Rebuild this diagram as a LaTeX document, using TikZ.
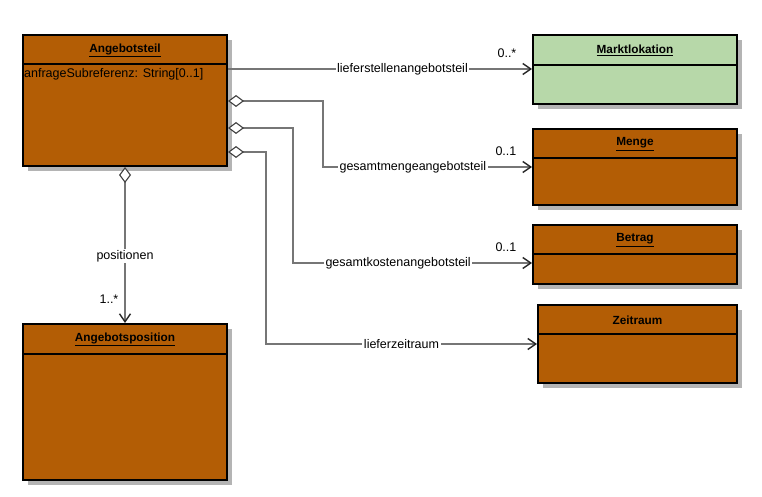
\documentclass[tikz,border=0pt]{standalone}
\usepackage{fontspec}
\setmainfont{Liberation Sans}
\usetikzlibrary{arrows.meta,shadows}
\definecolor{klasse}{RGB}{179,93,5}
\definecolor{extern}{RGB}{183,216,169}
\definecolor{schatten}{RGB}{180,180,180}
\definecolor{linie}{RGB}{118,118,118}
\begin{document}
\begin{tikzpicture}[x=1pt, y=-1pt, font=\fontsize{12.5}{14}\selectfont,
  cls/.style={draw=black, line width=2pt, anchor=north west, inner sep=0pt, fill=klasse, minimum width=204pt,
    drop shadow={shadow xshift=5pt, shadow yshift=-5pt, fill=schatten, opacity=1}},
  titel/.style={font=\fontsize{11.8}{14}\selectfont\bfseries, inner sep=0pt},
  sep/.style={line width=2pt},
  verb/.style={draw=linie, line width=1.3pt, -{Straight Barb[length=8pt, width=11pt, line width=1.4pt, color=black!85]}},
  agg/.style={verb, {Diamond[open, fill=white, length=16pt, width=12pt, line width=1.1pt, color=black!75]}-{Straight Barb[length=8pt, width=11pt, line width=1.4pt, color=black!85]}},
  lbl/.style={fill=white, inner sep=1.5pt},
  mult/.style={inner sep=0pt, anchor=south east}]
\useasboundingbox (0,0) rectangle (762,497);
\node[cls, minimum height=131pt] (Angebotsteil) at (22,34) {};
\node[titel] (Angebotsteil_t) at ([yshift=-16pt]Angebotsteil.north) {\underline{Angebotsteil}};
\draw[sep] ([yshift=-30pt]Angebotsteil.north west) -- ([yshift=-30pt]Angebotsteil.north east);
\node[anchor=west, inner sep=0pt] (Angebotsteil_a) at ([xshift=2pt, yshift=-40pt]Angebotsteil.north west) {anfrageSubreferenz: String[0..1]};
\node[cls, minimum height=156pt] (Angebotsposition) at (22,323) {};
\node[titel] (Angebotsposition_t) at ([yshift=-16pt]Angebotsposition.north) {\underline{Angebotsposition}};
\draw[sep] ([yshift=-31pt]Angebotsposition.north west) -- ([yshift=-31pt]Angebotsposition.north east);
\node[cls, fill=extern, minimum height=69pt] (Marktlokation) at (532,34) {};
\node[titel] (Marktlokation_t) at ([yshift=-16pt]Marktlokation.north) {\underline{Marktlokation}};
\draw[sep] ([yshift=-31pt]Marktlokation.north west) -- ([yshift=-31pt]Marktlokation.north east);
\node[cls, minimum height=76pt] (Menge) at (532,128) {};
\node[titel] (Menge_t) at ([yshift=-16pt]Menge.north) {\underline{Menge}};
\draw[sep] ([yshift=-30pt]Menge.north west) -- ([yshift=-30pt]Menge.north east);
\node[cls, minimum height=59pt] (Betrag) at (532,224) {};
\node[titel] (Betrag_t) at ([yshift=-16pt]Betrag.north) {\underline{Betrag}};
\draw[sep] ([yshift=-30pt]Betrag.north west) -- ([yshift=-30pt]Betrag.north east);
\node[cls, minimum width=199pt, minimum height=78pt] (Zeitraum) at (537,304) {};
\node[titel] (Zeitraum_t) at ([yshift=-16pt]Zeitraum.north) {Zeitraum};
\draw[sep] ([yshift=-30pt]Zeitraum.north west) -- ([yshift=-30pt]Zeitraum.north east);
\draw[verb] ([yshift=-35pt]Angebotsteil.north east) -- node[lbl, pos=0.574] {lieferstellenangebotsteil} ([yshift=-35pt]Marktlokation.north west) node[mult, xshift=-15pt, yshift=11pt] {0..*};
\draw[agg] ([yshift=-67pt]Angebotsteil.north east) -- ++(95,0) |- node[lbl, pos=0.715] {gesamtmengeangebotsteil} ([yshift=-39pt]Menge.north west) node[mult, xshift=-15pt, yshift=11pt] {0..1};
\draw[agg] ([yshift=-94pt]Angebotsteil.north east) -- ++(65,0) |- node[lbl, pos=0.72] {gesamtkostenangebotsteil} ([yshift=-39pt]Betrag.north west) node[mult, xshift=-15pt, yshift=11pt] {0..1};
\draw[agg] ([yshift=-118pt]Angebotsteil.north east) -- ++(38,0) |- node[lbl, pos=0.75] {lieferzeitraum} ([yshift=-40pt]Zeitraum.north west);
\draw[agg] (Angebotsteil.south) -- node[lbl, pos=0.57] {positionen} (Angebotsposition.north) node[mult, xshift=-6pt, yshift=19pt] {1..*};
\end{tikzpicture}
\end{document}
